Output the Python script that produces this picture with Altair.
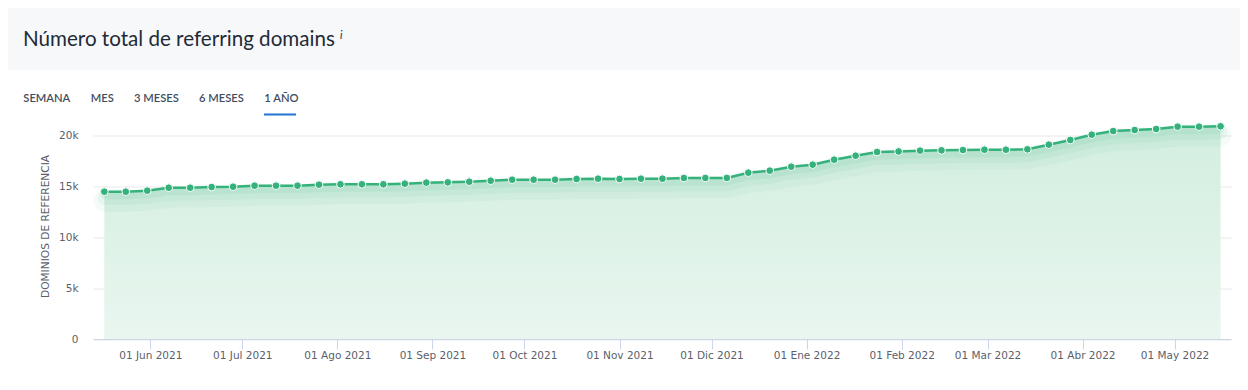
import altair as alt
import pandas as pd

# ---------------- data ----------------
week_dates = [
    "2021-05-17", "2021-05-24", "2021-05-31", "2021-06-07", "2021-06-14", "2021-06-21",
    "2021-06-28", "2021-07-05", "2021-07-12", "2021-07-19", "2021-07-26", "2021-08-02",
    "2021-08-09", "2021-08-16", "2021-08-23", "2021-08-30", "2021-09-06", "2021-09-13",
    "2021-09-20", "2021-09-27", "2021-10-04", "2021-10-11", "2021-10-18", "2021-10-25",
    "2021-11-01", "2021-11-08", "2021-11-15", "2021-11-22", "2021-11-29", "2021-12-06",
    "2021-12-13", "2021-12-20", "2021-12-27", "2022-01-03", "2022-01-10", "2022-01-17",
    "2022-01-24", "2022-01-31", "2022-02-07", "2022-02-14", "2022-02-21", "2022-02-28",
    "2022-03-07", "2022-03-14", "2022-03-21", "2022-03-28", "2022-04-04", "2022-04-11",
    "2022-04-18", "2022-04-25", "2022-05-02", "2022-05-09", "2022-05-16",
]
referring_domains = [
    14500, 14500, 14600, 14890, 14890, 14960, 14990, 15090, 15090, 15090,
    15190, 15230, 15230, 15230, 15290, 15390, 15420, 15480, 15580, 15680,
    15680, 15680, 15750, 15780, 15750, 15780, 15780, 15850, 15850, 15850,
    16370, 16570, 16960, 17160, 17650, 18040, 18410, 18460, 18540, 18570,
    18600, 18630, 18630, 18670, 19130, 19590, 20110, 20470, 20570, 20670,
    20900, 20900, 20940,
]
month_ticks = [
    "2021-06-01", "2021-07-01", "2021-08-01", "2021-09-01", "2021-10-01", "2021-11-01",
    "2021-12-01", "2022-01-01", "2022-02-01", "2022-03-01", "2022-04-01", "2022-05-01",
]
month_names = ["Ene", "Feb", "Mar", "Abr", "May", "Jun", "Jul", "Ago", "Sep", "Oct", "Nov", "Dic"]
y_ticks = [0, 5000, 10000, 15000, 20000]
tabs = ["SEMANA", "MES", "3 MESES", "6 MESES", "1 AÑO"]
title_text = "Número total de referring domains"
y_title = "DOMINIOS DE REFERENCIA"

# ---------------- build ----------------
def ms(d):
    return int(pd.Timestamp(d, tz="UTC").value // 10**6)

df = pd.DataFrame({
    "date": [d + "T00:00:00Z" for d in week_dates],
    "value": referring_domains,
})

x_domain = [ms("2021-05-13T07:30:00"), ms("2022-05-19T09:40:00")]
tick_values = [ms(d) for d in month_ticks]
names_js = "[" + ",".join("'" + m + "'" for m in month_names) + "]"

GREEN = "#35b27c"
AXIS_FONT = "DejaVu Sans"

x_enc = alt.X(
    "date:T",
    scale=alt.Scale(type="utc", domain=x_domain),
    axis=alt.Axis(
        values=tick_values,
        labelExpr="'01 ' + " + names_js + "[utcmonth(datum.value)] + ' ' + utcyear(datum.value)",
        title=None,
        grid=False,
        tickSize=10,
        tickColor="#ccd6eb",
        domainColor="#ccd6eb",
        labelFont=AXIS_FONT,
        labelFontSize=10.5,
        labelColor="#5a5f6b",
        labelPadding=1,
        labelOverlap=False,
        labelFlush=False,
    ),
)
y_enc = alt.Y(
    "value:Q",
    scale=alt.Scale(domain=[0, 22000], nice=False),
    axis=alt.Axis(
        values=y_ticks,
        labelExpr="datum.value == 0 ? '0' : (datum.value / 1000) + 'k'",
        title=None,
        grid=True,
        gridColor="#e8e8e8",
        domain=False,
        ticks=False,
        labelFont=AXIS_FONT,
        labelFontSize=10.5,
        labelColor="#5a5f6b",
        labelPadding=15,
    ),
)

one = pd.DataFrame({"a": [0]})

header = alt.Chart(one).mark_rect(color="#f7f8fa").encode(
    x=alt.value(-85), x2=alt.value(1147), y=alt.value(-107.5), y2=alt.value(-45.5)
)

title = alt.Chart(one).mark_text(
    text=title_text, font="Lato", fontSize=20.6, color="#1f2a37", align="left", baseline="alphabetic"
).encode(x=alt.value(-70), y=alt.value(-69.5))

info = alt.Chart(one).mark_text(
    text="i", font="Lato", fontSize=11, fontStyle="italic", color="#1f2a37", align="left", baseline="alphabetic"
).encode(x=alt.value(247), y=alt.value(-77))

tab_x = [-69.7, -2.3, 41, 106, 171.3]
tab_layers = []
for lbl, tx in zip(tabs, tab_x):
    tab_layers.append(
        alt.Chart(one).mark_text(
            text=lbl, font="Lato", fontSize=11.2, fontWeight=600, color="#3f4d60",
            align="left", baseline="alphabetic"
        ).encode(x=alt.value(tx), y=alt.value(-13.8))
    )

underline = alt.Chart(one).mark_rect(color="#1f74cf").encode(
    x=alt.value(171), x2=alt.value(203), y=alt.value(-2), y2=alt.value(0)
)

ytitle = alt.Chart(one).mark_text(
    text=y_title, font=AXIS_FONT, fontSize=10.6, color="#5a5f6b", angle=270,
    align="center", baseline="middle"
).encode(x=alt.value(-47), y=alt.value(111))

base = alt.Chart(df).encode(x=x_enc, y=y_enc)

area = base.mark_area(
    color=alt.Gradient(
        gradient="linear",
        stops=[alt.GradientStop(color="#d2eee0", offset=0), alt.GradientStop(color="#e9f6ef", offset=1)],
        x1=1, x2=1, y1=0, y2=1,
    )
)

glow1 = base.mark_line(color=GREEN, strokeWidth=22, opacity=0.05, yOffset=9, strokeCap="round")
glow2 = base.mark_line(color=GREEN, strokeWidth=14, opacity=0.07, yOffset=6, strokeCap="round")
glow3 = base.mark_line(color=GREEN, strokeWidth=7, opacity=0.08, yOffset=4, strokeCap="round")

line = base.mark_line(color=GREEN, strokeWidth=2.5)
points = base.mark_circle(size=60, color=GREEN, opacity=1, stroke="white", strokeWidth=1)

chart = alt.layer(
    header, title, info, *tab_layers, underline, ytitle,
    area, glow1, glow2, glow3, line, points,
).properties(
    width=1138,
    height=223.5,
    autosize=alt.AutoSizeParams(type="none"),
    padding={"left": 85, "top": 107.5, "right": 9, "bottom": 38},
    background="white",
).configure_view(stroke="transparent")

chart.save("out.html", embed_options={"renderer": "svg", "actions": False})
